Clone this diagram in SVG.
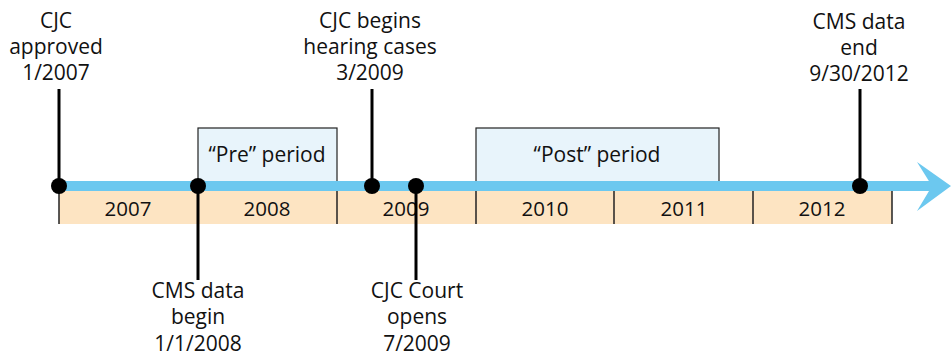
<svg xmlns="http://www.w3.org/2000/svg" width="951" height="356" viewBox="0 0 951 356">
<style>
text{font-family:"Open Sans","Noto Sans","Liberation Sans",sans-serif;font-size:21px;fill:#111;text-anchor:middle}
.yr{font-size:20.5px}
.stem{stroke:#000;stroke-width:3;fill:none}
.div{stroke:#222;stroke-width:1.5}
.dot{fill:#000}
.period{fill:#e8f4fb;stroke:#222;stroke-width:1.2}
</style>
<rect width="951" height="356" fill="#fff"/>
<g id="periods">
<g id="pre"><rect class="period" x="198" y="128" width="139" height="55"/><text x="267" y="162">“Pre” period</text></g>
<g id="post"><rect class="period" x="476" y="128" width="243" height="55"/><text x="597" y="162">“Post” period</text></g>
</g>
<g id="years">
<rect x="59" y="191" width="833" height="33" fill="#fde4c2"/>
<line class="div" x1="59" y1="191" x2="59" y2="224"/>
<line class="div" x1="198" y1="191" x2="198" y2="224"/>
<line class="div" x1="337" y1="191" x2="337" y2="224"/>
<line class="div" x1="476" y1="191" x2="476" y2="224"/>
<line class="div" x1="614" y1="191" x2="614" y2="224"/>
<line class="div" x1="753" y1="191" x2="753" y2="224"/>
<line class="div" x1="892" y1="191" x2="892" y2="224"/>
<text class="yr" x="128" y="216">2007</text>
<text class="yr" x="267" y="216">2008</text>
<text class="yr" x="406" y="216">2009</text>
<text class="yr" x="545" y="216">2010</text>
<text class="yr" x="684" y="216">2011</text>
<text class="yr" x="822" y="216">2012</text>
</g>
<g id="timeline">
<rect x="59" y="181" width="876" height="10" fill="#6cc8ef"/>
<path d="M917,162 L951,186 L917,211 L932,186 Z" fill="#6cc8ef"/>
</g>
<g id="connectors">
<line class="stem" x1="59" y1="89" x2="59" y2="186"/>
<line class="stem" x1="372" y1="89" x2="372" y2="186"/>
<line class="stem" x1="860" y1="89" x2="860" y2="186"/>
<line class="stem" x1="198" y1="186" x2="198" y2="280"/>
<line class="stem" x1="416" y1="186" x2="416" y2="280"/>
</g>
<g id="e1"><circle class="dot" cx="59" cy="186" r="8"/><text x="56" y="28">CJC</text><text x="56" y="54">approved</text><text x="56" y="80">1/2007</text></g>
<g id="e2"><circle class="dot" cx="198" cy="186" r="8"/><text x="198" y="298">CMS data</text><text x="198" y="324">begin</text><text x="198" y="351">1/1/2008</text></g>
<g id="e3"><circle class="dot" cx="372" cy="186" r="8"/><text x="370" y="28">CJC begins</text><text x="370" y="54">hearing cases</text><text x="370" y="80">3/2009</text></g>
<g id="e4"><circle class="dot" cx="416" cy="186" r="8"/><text x="417" y="298">CJC Court</text><text x="417" y="324">opens</text><text x="417" y="351">7/2009</text></g>
<g id="e5"><circle class="dot" cx="860" cy="186" r="8"/><text x="859" y="29">CMS data</text><text x="859" y="55">end</text><text x="859" y="81">9/30/2012</text></g>
</svg>
